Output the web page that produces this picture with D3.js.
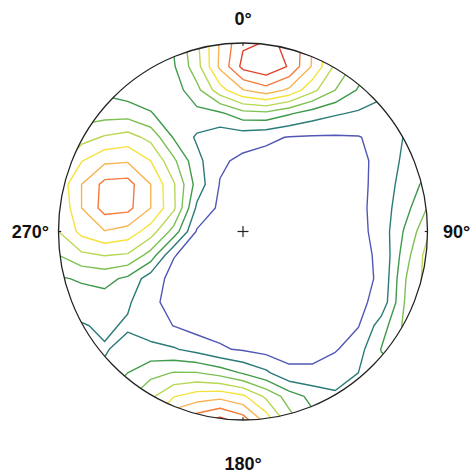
<!DOCTYPE html>
<html><head><meta charset="utf-8">
<script src="https://cdn.jsdelivr.net/npm/d3@7"></script>
<style>html,body{margin:0;padding:0;background:#fff;}svg{display:block;}</style>
</head><body>
<svg id="chart" width="474" height="473"></svg>
<script>
// Density grid sampled in projected (u east, v north) coordinates, rows north->south
const gridStart = -1.125, gridStep = 0.125;
const density = [
 [2.6,2.6,2.6,2.6,2.6,2.6,3.1,4.8,7.1,8.6,8.7,8.5,7.0,5.2,4.0,3.0,2.4,2.2,2.2],
 [2.6,2.6,2.6,2.6,2.6,2.6,3.1,4.8,7.1,8.85,9.05,8.95,7.0,5.2,4.0,3.0,2.4,2.2,2.2],
 [2.8,2.8,2.8,2.7,2.6,2.7,2.9,4.6,7.2,9.3,9.8,8.9,6.9,4.8,3.6,2.8,2.3,2.3,2.3],
 [2.9,2.9,2.9,2.8,2.45,2.6,2.5,3.7,5.6,6.95,7.6,6.8,5.3,4.0,2.9,2.2,2.0,2.2,2.3],
 [3.2,3.3,3.5,3.6,3.6,3.05,2.6,2.7,2.8,3.6,3.7,3.1,2.5,2.1,1.85,1.7,1.8,2.0,2.2],
 [4.0,4.5,4.6,5.1,5.4,4.7,2.9,1.85,1.4,1.4,1.2,0.95,0.9,0.9,0.95,1.3,2.05,2.4,2.6],
 [4.0,4.5,5.95,6.8,6.9,6.0,4.2,2.3,1.15,0.8,0.65,0.6,0.6,0.65,0.75,1.3,2.2,2.6,2.8],
 [4.8,5.3,7.0,8.3,8.4,7.0,5.1,2.6,0.95,0.55,0.5,0.5,0.5,0.55,0.7,1.4,2.4,3.3,3.6],
 [4.5,5.0,7.0,8.4,8.3,7.0,5.2,1.8,0.8,0.5,0.45,0.45,0.45,0.5,0.7,1.5,2.6,4.05,4.5],
 [4.5,5.0,6.3,6.95,6.6,5.5,3.6,0.9,0.5,0.45,0.45,0.45,0.45,0.5,0.7,1.4,3.1,4.8,5.2],
 [3.8,4.0,4.8,5.05,4.9,3.6,1.05,0.6,0.5,0.45,0.45,0.45,0.5,0.6,0.85,1.1,3.5,5.4,5.8],
 [2.8,2.9,3.1,3.3,2.8,1.45,0.7,0.55,0.5,0.45,0.45,0.45,0.5,0.6,0.8,1.1,3.9,5.4,5.5],
 [2.7,2.7,2.6,2.6,2.15,1.2,0.7,0.55,0.5,0.45,0.45,0.45,0.5,0.6,0.8,1.3,4.0,5.4,5.5],
 [1.8,1.8,1.9,2.2,1.85,1.4,0.98,0.6,0.7,0.55,0.5,0.5,0.55,0.6,0.95,2.5,4.2,5.0,5.0],
 [1.8,1.8,1.8,1.9,2.4,2.3,2.1,1.65,1.1,0.9,0.65,0.75,0.75,0.9,1.6,3.05,3.8,4.0,4.0],
 [1.9,1.9,2.0,2.2,3.0,3.7,4.05,4.05,3.6,2.9,2.2,1.15,1.15,1.7,2.0,2.6,3.0,3.2,3.2],
 [2.5,2.5,3.0,3.0,3.8,4.8,5.95,6.5,6.7,6.2,4.8,3.55,2.7,2.1,2.2,2.6,3.0,3.0,3.0],
 [2.5,2.5,3.0,4.0,5.0,6.0,7.9,8.6,9.3,8.5,6.6,4.4,3.3,2.6,2.4,2.6,3.0,3.0,3.0],
 [2.5,2.5,3.0,4.0,5.0,6.0,7.9,8.6,9.3,8.5,6.6,4.4,3.3,2.6,2.4,2.6,3.0,3.0,3.0]
];
const levels = [1,2,3,4,5,6,7,8,9];
const levelColors = ["#5157b5","#2a7b78","#3f9a4c","#7cc152","#b8d853","#f6e23c","#f8b453","#f37b3c","#e2412c"];
const directionLabels = ["0°","90°","180°","270°"];
const directionAngles = [0,90,180,270];

const svg = d3.select("#chart");
const cx = 243, cy = 231.5, rx = 184.5, ry = 188.5;
const xScale = d3.scaleLinear().domain([-1,1]).range([cx-rx, cx+rx]);
const yScale = d3.scaleLinear().domain([-1,1]).range([cy+ry, cy-ry]);

const n = density[0].length, m = density.length;
const values = density.flat();
const contours = d3.contours().size([n, m]).thresholds(levels)(values);

const gridToU = g => gridStart + (g - 0.5) * gridStep;
const gridToV = g => -gridStart - (g - 0.5) * gridStep;
const proj = d3.geoTransform({
  point: function(x, y) { this.stream.point(xScale(gridToU(x)), yScale(gridToV(y))); }
});
const path = d3.geoPath(proj);

svg.append("defs").append("clipPath").attr("id","net")
  .append("ellipse").attr("cx",cx).attr("cy",cy).attr("rx",rx).attr("ry",ry);

svg.append("g").attr("clip-path","url(#net)")
  .selectAll("path").data(contours).join("path")
  .attr("d", path)
  .attr("fill","none")
  .attr("stroke",(d,i)=>levelColors[i])
  .attr("stroke-width",1.4)
  .attr("stroke-linejoin","round");

svg.append("ellipse").attr("cx",cx).attr("cy",cy).attr("rx",rx).attr("ry",ry)
  .attr("fill","none").attr("stroke","#222").attr("stroke-width",1.3);

// ticks at cardinal directions
directionAngles.forEach(a => {
  const t = a * Math.PI / 180;
  const su = Math.sin(t), sv = Math.cos(t);
  svg.append("line")
    .attr("x1", xScale(su)).attr("y1", yScale(sv))
    .attr("x2", xScale(su*0.985)).attr("y2", yScale(sv*0.985))
    .attr("stroke","#222").attr("stroke-width",1.2);
});

// center cross
svg.append("line").attr("x1",xScale(0)-5.5).attr("x2",xScale(0)+5.5).attr("y1",yScale(0)).attr("y2",yScale(0)).attr("stroke","#222").attr("stroke-width",1.2);
svg.append("line").attr("x1",xScale(0)).attr("x2",xScale(0)).attr("y1",yScale(0)-5.5).attr("y2",yScale(0)+5.5).attr("stroke","#222").attr("stroke-width",1.2);

const labelPos = [
  {x: xScale(0), y: 25, anchor: "middle"},
  {x: 443, y: 238, anchor: "start"},
  {x: xScale(0), y: 470, anchor: "middle"},
  {x: 49, y: 238, anchor: "end"}
];
svg.selectAll("text.dir").data(directionLabels).join("text")
  .attr("class","dir")
  .attr("x",(d,i)=>labelPos[i].x).attr("y",(d,i)=>labelPos[i].y)
  .attr("text-anchor",(d,i)=>labelPos[i].anchor)
  .attr("font-family","Liberation Sans, Arial, sans-serif")
  .attr("font-weight","bold").attr("font-size",18).attr("fill","#111")
  .text(d=>d);
</script>
</body></html>
